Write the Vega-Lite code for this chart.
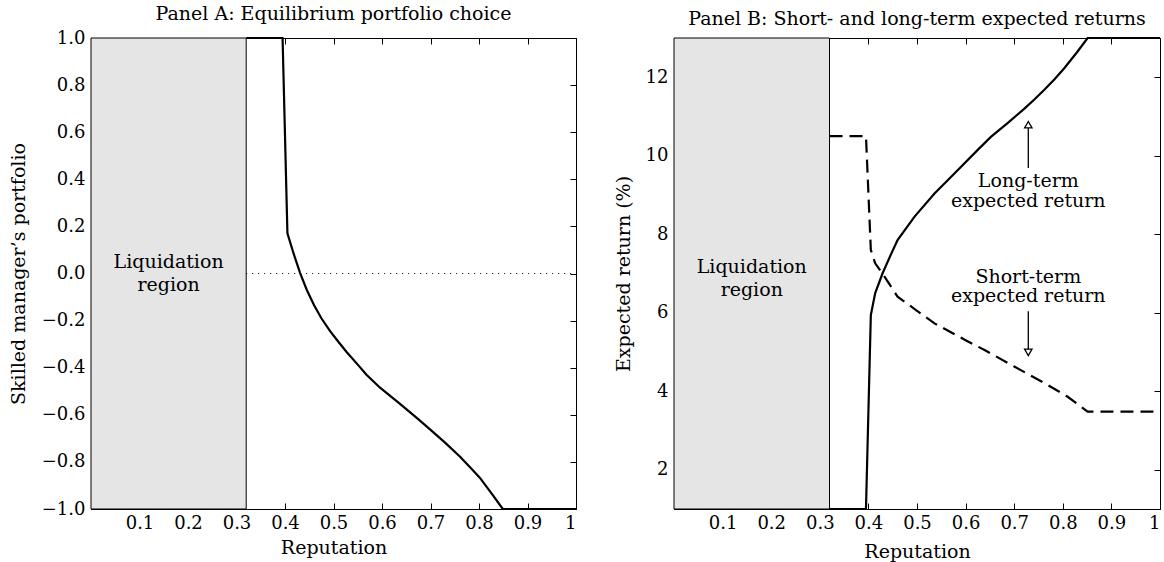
{
  "$schema": "https://vega.github.io/schema/vega-lite/v6.json",
  "padding": {"left": 8, "top": 4, "right": 2, "bottom": 0},
  "config": {
    "font": "DejaVu Serif",
    "view": {"stroke": "black", "strokeWidth": 1},
    "axis": {
      "labelFont": "DejaVu Serif", "titleFont": "DejaVu Serif",
      "labelFontSize": 18, "titleFontSize": 19, "titleFontWeight": "normal",
      "labelColor": "black", "titleColor": "black", "tickColor": "black", "domainColor": "black",
      "tickSize": -6, "grid": false, "labelPadding": 12, "domain": true
    },
    "title": {"font": "DejaVu Serif", "fontSize": 19, "fontWeight": "normal", "color": "black", "offset": 5},
    "concat": {"spacing": 32}
  },
  "datasets": {
    "liqA": [{"x0": 0, "x1": 0.32, "y0": -1, "y1": 1}],
    "liqB": [{"x0": 0, "x1": 0.32, "y0": 1, "y1": 13}],
    "portfolio": [
      {"x": 0.32, "y": 1.0}, {"x": 0.395, "y": 1.0}, {"x": 0.405, "y": 0.171}, {"x": 0.418, "y": 0.083},
      {"x": 0.431, "y": 0.003}, {"x": 0.445, "y": -0.07}, {"x": 0.46, "y": -0.135}, {"x": 0.475, "y": -0.19},
      {"x": 0.493, "y": -0.245}, {"x": 0.51, "y": -0.29}, {"x": 0.527, "y": -0.333}, {"x": 0.55, "y": -0.387},
      {"x": 0.568, "y": -0.43}, {"x": 0.596, "y": -0.485}, {"x": 0.634, "y": -0.548}, {"x": 0.671, "y": -0.612},
      {"x": 0.699, "y": -0.662}, {"x": 0.73, "y": -0.718}, {"x": 0.761, "y": -0.778}, {"x": 0.785, "y": -0.83},
      {"x": 0.802, "y": -0.868}, {"x": 0.83, "y": -0.945}, {"x": 0.849, "y": -1.0}, {"x": 1.0, "y": -1.0}
    ],
    "zeroA": [{"x0": 0.32, "x1": 1, "y": 0}],
    "textA": [{"x": 0.16, "y": 0.05, "t": "Liquidation"}, {"x": 0.16, "y": -0.05, "t": "region"}],
    "longterm": [
      {"x": 0.32, "y": 1}, {"x": 0.395, "y": 1}, {"x": 0.405, "y": 5.94}, {"x": 0.414, "y": 6.5},
      {"x": 0.429, "y": 7.0}, {"x": 0.445, "y": 7.45}, {"x": 0.46, "y": 7.85}, {"x": 0.495, "y": 8.45},
      {"x": 0.536, "y": 9.04}, {"x": 0.577, "y": 9.55}, {"x": 0.625, "y": 10.15}, {"x": 0.652, "y": 10.48},
      {"x": 0.687, "y": 10.84}, {"x": 0.721, "y": 11.2}, {"x": 0.742, "y": 11.44}, {"x": 0.762, "y": 11.68},
      {"x": 0.783, "y": 11.95}, {"x": 0.803, "y": 12.23}, {"x": 0.83, "y": 12.65}, {"x": 0.851, "y": 13},
      {"x": 1.0, "y": 13}
    ],
    "shortterm": [
      {"x": 0.32, "y": 10.5}, {"x": 0.395, "y": 10.5}, {"x": 0.405, "y": 7.6}, {"x": 0.414, "y": 7.26},
      {"x": 0.429, "y": 7.0}, {"x": 0.46, "y": 6.41}, {"x": 0.5, "y": 6.05}, {"x": 0.536, "y": 5.73},
      {"x": 0.6, "y": 5.3}, {"x": 0.639, "y": 5.05}, {"x": 0.7, "y": 4.63}, {"x": 0.769, "y": 4.16},
      {"x": 0.81, "y": 3.86}, {"x": 0.851, "y": 3.48}, {"x": 1.0, "y": 3.48}
    ],
    "textB": [
      {"x": 0.16, "y": 7.17, "t": "Liquidation"}, {"x": 0.16, "y": 6.58, "t": "region"},
      {"x": 0.729, "y": 9.36, "t": "Long-term"}, {"x": 0.729, "y": 8.85, "t": "expected return"},
      {"x": 0.729, "y": 6.9, "t": "Short-term"}, {"x": 0.729, "y": 6.43, "t": "expected return"}
    ],
    "shafts": [{"x": 0.729, "y": 9.69, "y2": 10.72}, {"x": 0.729, "y": 6.04, "y2": 5.05}],
    "headsUp": [{"x": 0.729, "y": 10.79}],
    "headsDown": [{"x": 0.729, "y": 4.99}]
  },
  "hconcat": [
    {
      "width": 485, "height": 471,
      "title": "Panel A: Equilibrium portfolio choice",
      "layer": [
        {
          "data": {"name": "liqA"},
          "mark": {"type": "rect", "fill": "#e5e5e5", "stroke": "black", "strokeWidth": 1},
          "encoding": {
            "x": {"field": "x0", "type": "quantitative", "scale": {"domain": [0, 1], "nice": false, "zero": false},
              "axis": {"orient": "bottom", "values": [0.1, 0.2, 0.3, 0.4, 0.5, 0.6, 0.7, 0.8, 0.9, 1], "labelPadding": 11,
                "labelExpr": "datum.value == 1 ? '1' : format(datum.value, '.1f')", "title": "Reputation", "titlePadding": 6}},
            "x2": {"field": "x1"},
            "y": {"field": "y0", "type": "quantitative", "scale": {"domain": [-1, 1], "nice": false, "zero": false},
              "axis": {"orient": "left", "values": [-1, -0.8, -0.6, -0.4, -0.2, 0, 0.2, 0.4, 0.6, 0.8, 1],
                "format": ".1f", "title": "Skilled manager’s portfolio", "minExtent": 50, "maxExtent": 50, "titlePadding": 13}},
            "y2": {"field": "y1"}
          }
        },
        {
          "data": {"name": "zeroA"},
          "mark": {"type": "rule", "color": "black", "strokeWidth": 1, "strokeDash": [1, 5]},
          "encoding": {
            "x": {"field": "x0", "type": "quantitative", "scale": {"domain": [0, 1], "nice": false, "zero": false},
              "axis": {"orient": "top", "values": [0.1, 0.2, 0.3, 0.4, 0.5, 0.6, 0.7, 0.8, 0.9, 1], "labels": false, "title": null}},
            "x2": {"field": "x1"},
            "y": {"field": "y", "type": "quantitative", "scale": {"domain": [-1, 1], "nice": false, "zero": false},
              "axis": {"orient": "right", "values": [-1, -0.8, -0.6, -0.4, -0.2, 0, 0.2, 0.4, 0.6, 0.8, 1], "labels": false, "title": null}}
          }
        },
        {
          "data": {"name": "portfolio"},
          "mark": {"type": "line", "color": "black", "strokeWidth": 2.2},
          "encoding": {
            "x": {"field": "x", "type": "quantitative", "axis": null},
            "y": {"field": "y", "type": "quantitative", "axis": null}
          }
        },
        {
          "data": {"name": "textA"},
          "mark": {"type": "text", "font": "DejaVu Serif", "fontSize": 19, "color": "black", "align": "center", "baseline": "middle"},
          "encoding": {
            "x": {"field": "x", "type": "quantitative", "axis": null},
            "y": {"field": "y", "type": "quantitative", "axis": null},
            "text": {"field": "t"}
          }
        }
      ],
      "resolve": {"axis": {"x": "independent", "y": "independent"}}
    },
    {
      "width": 486, "height": 471,
      "title": "Panel B: Short- and long-term expected returns",
      "layer": [
        {
          "data": {"name": "liqB"},
          "mark": {"type": "rect", "fill": "#e5e5e5", "stroke": "black", "strokeWidth": 1},
          "encoding": {
            "x": {"field": "x0", "type": "quantitative", "scale": {"domain": [0, 1], "nice": false, "zero": false},
              "axis": {"orient": "bottom", "values": [0.1, 0.2, 0.3, 0.4, 0.5, 0.6, 0.7, 0.8, 0.9, 1], "labelPadding": 11,
                "labelExpr": "datum.value == 1 ? '1' : format(datum.value, '.1f')", "title": "Reputation", "titlePadding": 10}},
            "x2": {"field": "x1"},
            "y": {"field": "y0", "type": "quantitative", "scale": {"domain": [1, 13], "nice": false, "zero": false},
              "axis": {"orient": "left", "values": [2, 4, 6, 8, 10, 12], "format": "d",
                "title": "Expected return (%)", "minExtent": 30, "maxExtent": 30, "titlePadding": 11}},
            "y2": {"field": "y1"}
          }
        },
        {
          "data": {"name": "shafts"},
          "mark": {"type": "rule", "color": "black", "strokeWidth": 1.3},
          "encoding": {
            "x": {"field": "x", "type": "quantitative", "scale": {"domain": [0, 1], "nice": false, "zero": false},
              "axis": {"orient": "top", "values": [0.1, 0.2, 0.3, 0.4, 0.5, 0.6, 0.7, 0.8, 0.9, 1], "labels": false, "title": null}},
            "y": {"field": "y", "type": "quantitative", "scale": {"domain": [1, 13], "nice": false, "zero": false},
              "axis": {"orient": "right", "values": [2, 4, 6, 8, 10, 12], "labels": false, "title": null}},
            "y2": {"field": "y2"}
          }
        },
        {
          "data": {"name": "longterm"},
          "mark": {"type": "line", "color": "black", "strokeWidth": 2.2},
          "encoding": {
            "x": {"field": "x", "type": "quantitative", "axis": null},
            "y": {"field": "y", "type": "quantitative", "axis": null}
          }
        },
        {
          "data": {"name": "shortterm"},
          "mark": {"type": "line", "color": "black", "strokeWidth": 2.2, "strokeDash": [13, 7]},
          "encoding": {
            "x": {"field": "x", "type": "quantitative", "axis": null},
            "y": {"field": "y", "type": "quantitative", "axis": null}
          }
        },
        {
          "data": {"name": "headsUp"},
          "mark": {"type": "point", "shape": "triangle-up", "size": 55, "filled": true, "fill": "white", "stroke": "black", "strokeWidth": 1.3, "opacity": 1},
          "encoding": {
            "x": {"field": "x", "type": "quantitative", "axis": null},
            "y": {"field": "y", "type": "quantitative", "axis": null}
          }
        },
        {
          "data": {"name": "headsDown"},
          "mark": {"type": "point", "shape": "triangle-down", "size": 55, "filled": true, "fill": "white", "stroke": "black", "strokeWidth": 1.3, "opacity": 1},
          "encoding": {
            "x": {"field": "x", "type": "quantitative", "axis": null},
            "y": {"field": "y", "type": "quantitative", "axis": null}
          }
        },
        {
          "data": {"name": "textB"},
          "mark": {"type": "text", "font": "DejaVu Serif", "fontSize": 19, "color": "black", "align": "center", "baseline": "middle"},
          "encoding": {
            "x": {"field": "x", "type": "quantitative", "axis": null},
            "y": {"field": "y", "type": "quantitative", "axis": null},
            "text": {"field": "t"}
          }
        }
      ],
      "resolve": {"axis": {"x": "independent", "y": "independent"}}
    }
  ]
}
